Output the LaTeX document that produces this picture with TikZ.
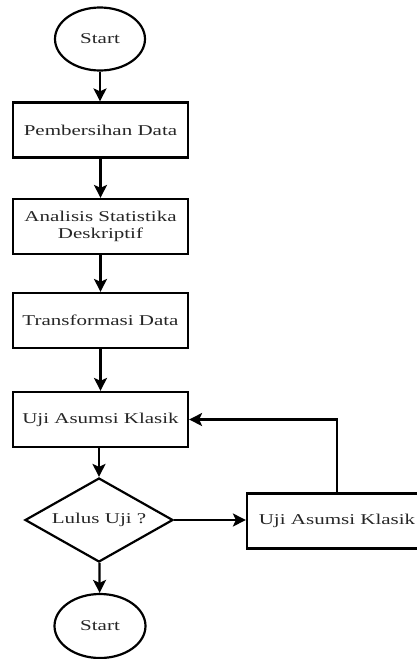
\documentclass[tikz,border=0pt]{standalone}
\usepackage{fontspec}
\setmainfont{Liberation Serif}[FakeStretch=1.4]
\usetikzlibrary{shapes.geometric,arrows.meta}
\tikzset{%
  inner sep=0pt,%
  every node/.style={font=\fontsize{15}{17}\selectfont,text=black!85},
  terminal/.style={draw,ellipse,minimum width=90pt,minimum height=63pt},
  process/.style={draw,rectangle,minimum width=175pt,minimum height=55pt,
    align=center},
  decision/.style={draw,diamond,shape aspect=1.76,minimum width=148pt,
    minimum height=84pt},
  flow/.style={-{Stealth[length=13pt,width=13pt,inset=3pt]}}%
}
\begin{document}
\begin{tikzpicture}[x=1pt,y=-1pt,line width=2.2pt]

%% page size (pixels of the reference)

\useasboundingbox (0,0) rectangle (417,659);

%% nodes

\node[terminal] (start) at (100,39) {Start};
\node[process] (clean) at (100.5,130) {Pembersihan Data};
\node[process] (desc) at (100.5,226.5) {Analisis Statistika\\Deskriptif};
\node[process] (trans) at (100.5,320.5) {Transformasi Data};
\node[process] (asumsi) at (100.5,419.5) {Uji Asumsi Klasik};
\node[decision] (lulus) at (99,520) {Lulus Uji ?};
\node[process,minimum width=180pt] (ulang) at (337,521) {Uji Asumsi Klasik};
\node[terminal,minimum width=91pt,minimum height=64pt] (stop) at (100,626)
    {Start};

%% connectors

\draw[flow] (start) -- (start |- clean.north);
\draw[flow] (clean) -- (desc);
\draw[flow] (desc) -- (trans);
\draw[flow] (trans) -- (asumsi);
\draw[flow] (asumsi.south -| lulus.north) -- (lulus);
\draw[flow] (lulus) -- (stop);
\draw[flow] (lulus.east) -- (lulus.east -| ulang.west);
\draw[flow] (ulang.north) |- (asumsi.east);

\end{tikzpicture}
\end{document}
